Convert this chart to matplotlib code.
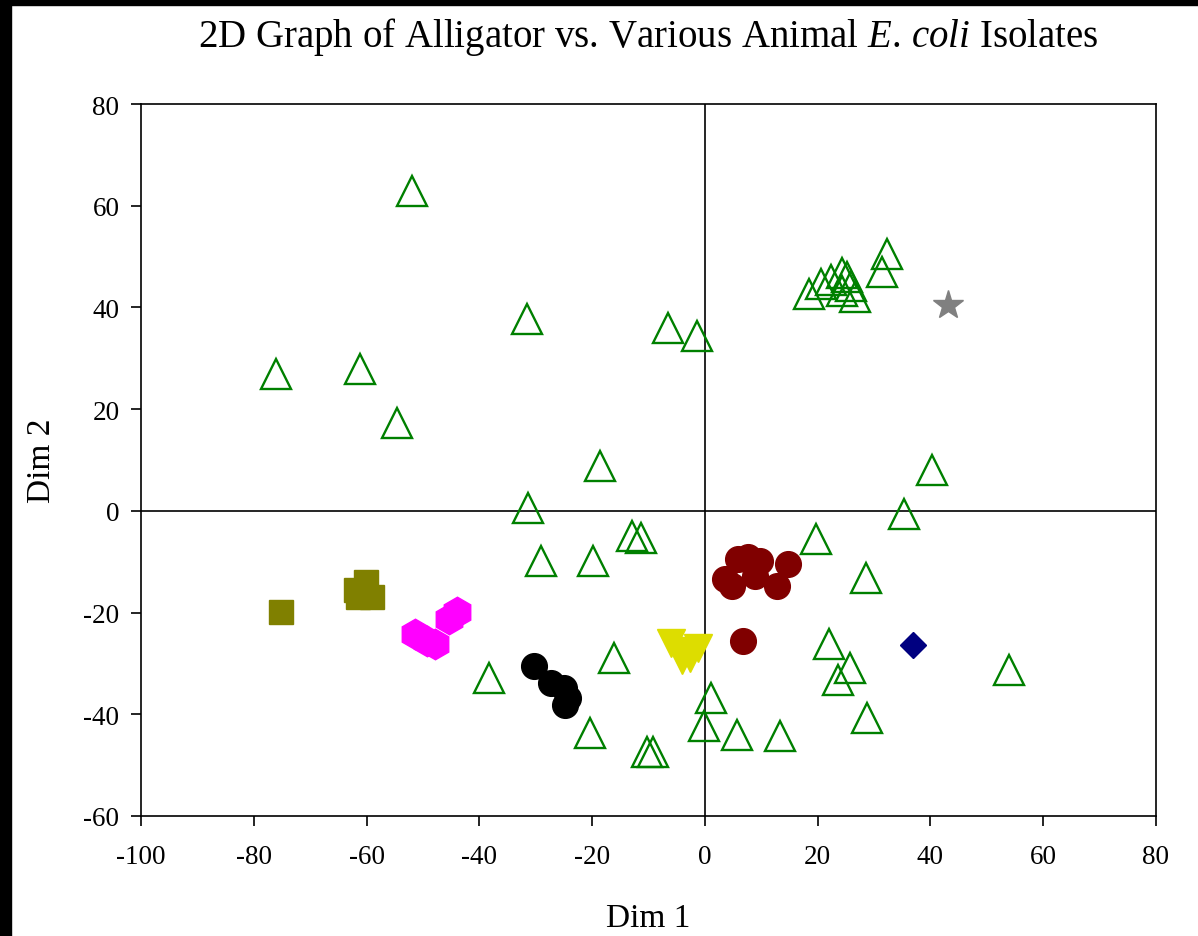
#!/usr/bin/env python3
"""2D MDS-style plot of alligator vs. other animal E. coli isolates."""

import matplotlib
matplotlib.use("Agg")
import matplotlib.pyplot as plt
from matplotlib.patches import Rectangle

# Other animal isolates (open green triangles)
other_x = [-52.0, -76.1, -61.2, -54.6, -31.6, -6.6, -1.4, -18.6, -31.4, -29.1,
           -12.9, -11.3, -19.9, -16.1, -38.3, -20.4, -10.3, -9.2, 1.1, -0.2,
           5.7, 13.3, 19.7, 28.6, 22.0, 23.6, 25.7, 28.7, 53.9, 35.3,
           40.3, 32.3, 31.4, 18.4, 20.6, 22.3, 24.3, 25.2, 24.3, 25.9, 26.6]
other_y = [62.9, 26.9, 27.9, 17.3, 37.8, 36.0, 34.4, 8.8, 0.6, -9.8,
           -4.9, -5.3, -9.8, -28.9, -32.8, -43.6, -47.4, -47.4, -36.8, -42.3,
           -44.0, -44.2, -5.5, -13.2, -26.2, -33.2, -30.9, -40.7, -31.3, -0.6,
           8.1, 50.5, 47.0, 42.7, 44.6, 45.4, 46.8, 46.0, 43.3, 44.2, 42.1]

# Alligator groups
maroon_x = [3.5, 4.8, 5.9, 7.6, 9.8, 8.9, 14.7, 12.8, 6.7]
maroon_y = [-13.4, -14.7, -9.4, -9.0, -9.8, -12.8, -10.4, -14.7, -25.6]

olive_x = [-75.2, -60.1, -61.8, -61.5, -59.0]
olive_y = [-19.9, -14.0, -15.5, -17.0, -17.0]

magenta_x = [-45.3, -43.9, -51.4, -49.3, -47.9]
magenta_y = [-21.2, -19.8, -24.2, -25.6, -26.2]

yellow_x = [-6.0, -1.2, -4.1, -2.7, -3.5]
yellow_y = [-26.0, -26.9, -29.3, -28.9, -27.5]

black_x = [-30.3, -27.3, -25.0, -24.2, -24.8]
black_y = [-30.5, -33.8, -34.8, -36.8, -38.2]

navy_x = [36.9]
navy_y = [-26.3]

star_x = [43.1]
star_y = [40.5]

x_ticks = list(range(-100, 81, 20))
y_ticks = list(range(-60, 81, 20))

plt.rcParams['font.family'] = ['Liberation Serif', 'DejaVu Serif']
plt.rcParams['mathtext.fontset'] = 'custom'
plt.rcParams['mathtext.rm'] = 'Liberation Serif'
plt.rcParams['mathtext.it'] = 'Liberation Serif:italic'
plt.rcParams['axes.unicode_minus'] = False

fig = plt.figure(figsize=(11.98, 9.37), dpi=100)
ax = fig.add_axes([0.1177, 0.1281, 0.8472, 0.7598])

# black frame strips on left and top edge of the image
fig.patches.append(Rectangle((0, 0), 11 / 1198, 1, transform=fig.transFigure,
                             color='black', zorder=10))
fig.patches.append(Rectangle((0, 1 - 6 / 937), 1, 6 / 937, transform=fig.transFigure,
                             color='black', zorder=10))

ax.axhline(0, color='black', linewidth=1.2, zorder=1)
ax.axvline(0, color='black', linewidth=1.2, zorder=1)

ax.plot(other_x, other_y, '^', markersize=21, markerfacecolor='none',
        markeredgecolor='#008000', markeredgewidth=1.7, linestyle='none', zorder=3)
ax.plot(maroon_x, maroon_y, 'o', markersize=18.5, color='#800000',
        linestyle='none', zorder=3)
ax.plot(olive_x, olive_y, 's', markersize=17, color='#808000',
        linestyle='none', zorder=3)
ax.plot(magenta_x, magenta_y, 'h', markersize=22, color='#FF00FF',
        linestyle='none', zorder=3)
ax.plot(yellow_x, yellow_y, 'v', markersize=20, color='#DDDD00',
        linestyle='none', zorder=3)
ax.plot(black_x, black_y, 'o', markersize=18.5, color='black',
        linestyle='none', zorder=3)
ax.plot(navy_x, navy_y, 'D', markersize=13, color='#000080',
        linestyle='none', zorder=3)
ax.plot(star_x, star_y, '*', markersize=22, color='#808080',
        linestyle='none', zorder=3)

ax.set_xlim(-100, 80)
ax.set_ylim(-60, 80)
ax.set_xticks(x_ticks)
ax.set_yticks(y_ticks)
ax.tick_params(axis='both', direction='out', length=7.5, width=1.2,
               labelsize=19.5)
ax.tick_params(axis='x', pad=13)
ax.tick_params(axis='y', pad=8)
for sp in ax.spines.values():
    sp.set_linewidth(1.2)

ax.set_title('2D Graph of Alligator vs. Various Animal $\\mathit{E.\\,coli}$ Isolates',
             fontsize=28, pad=42)
ax.set_xlabel('Dim 1', fontsize=24, labelpad=24)
ax.set_ylabel('Dim 2', fontsize=24, labelpad=19)

plt.savefig('out.png', dpi=100)
plt.close()
